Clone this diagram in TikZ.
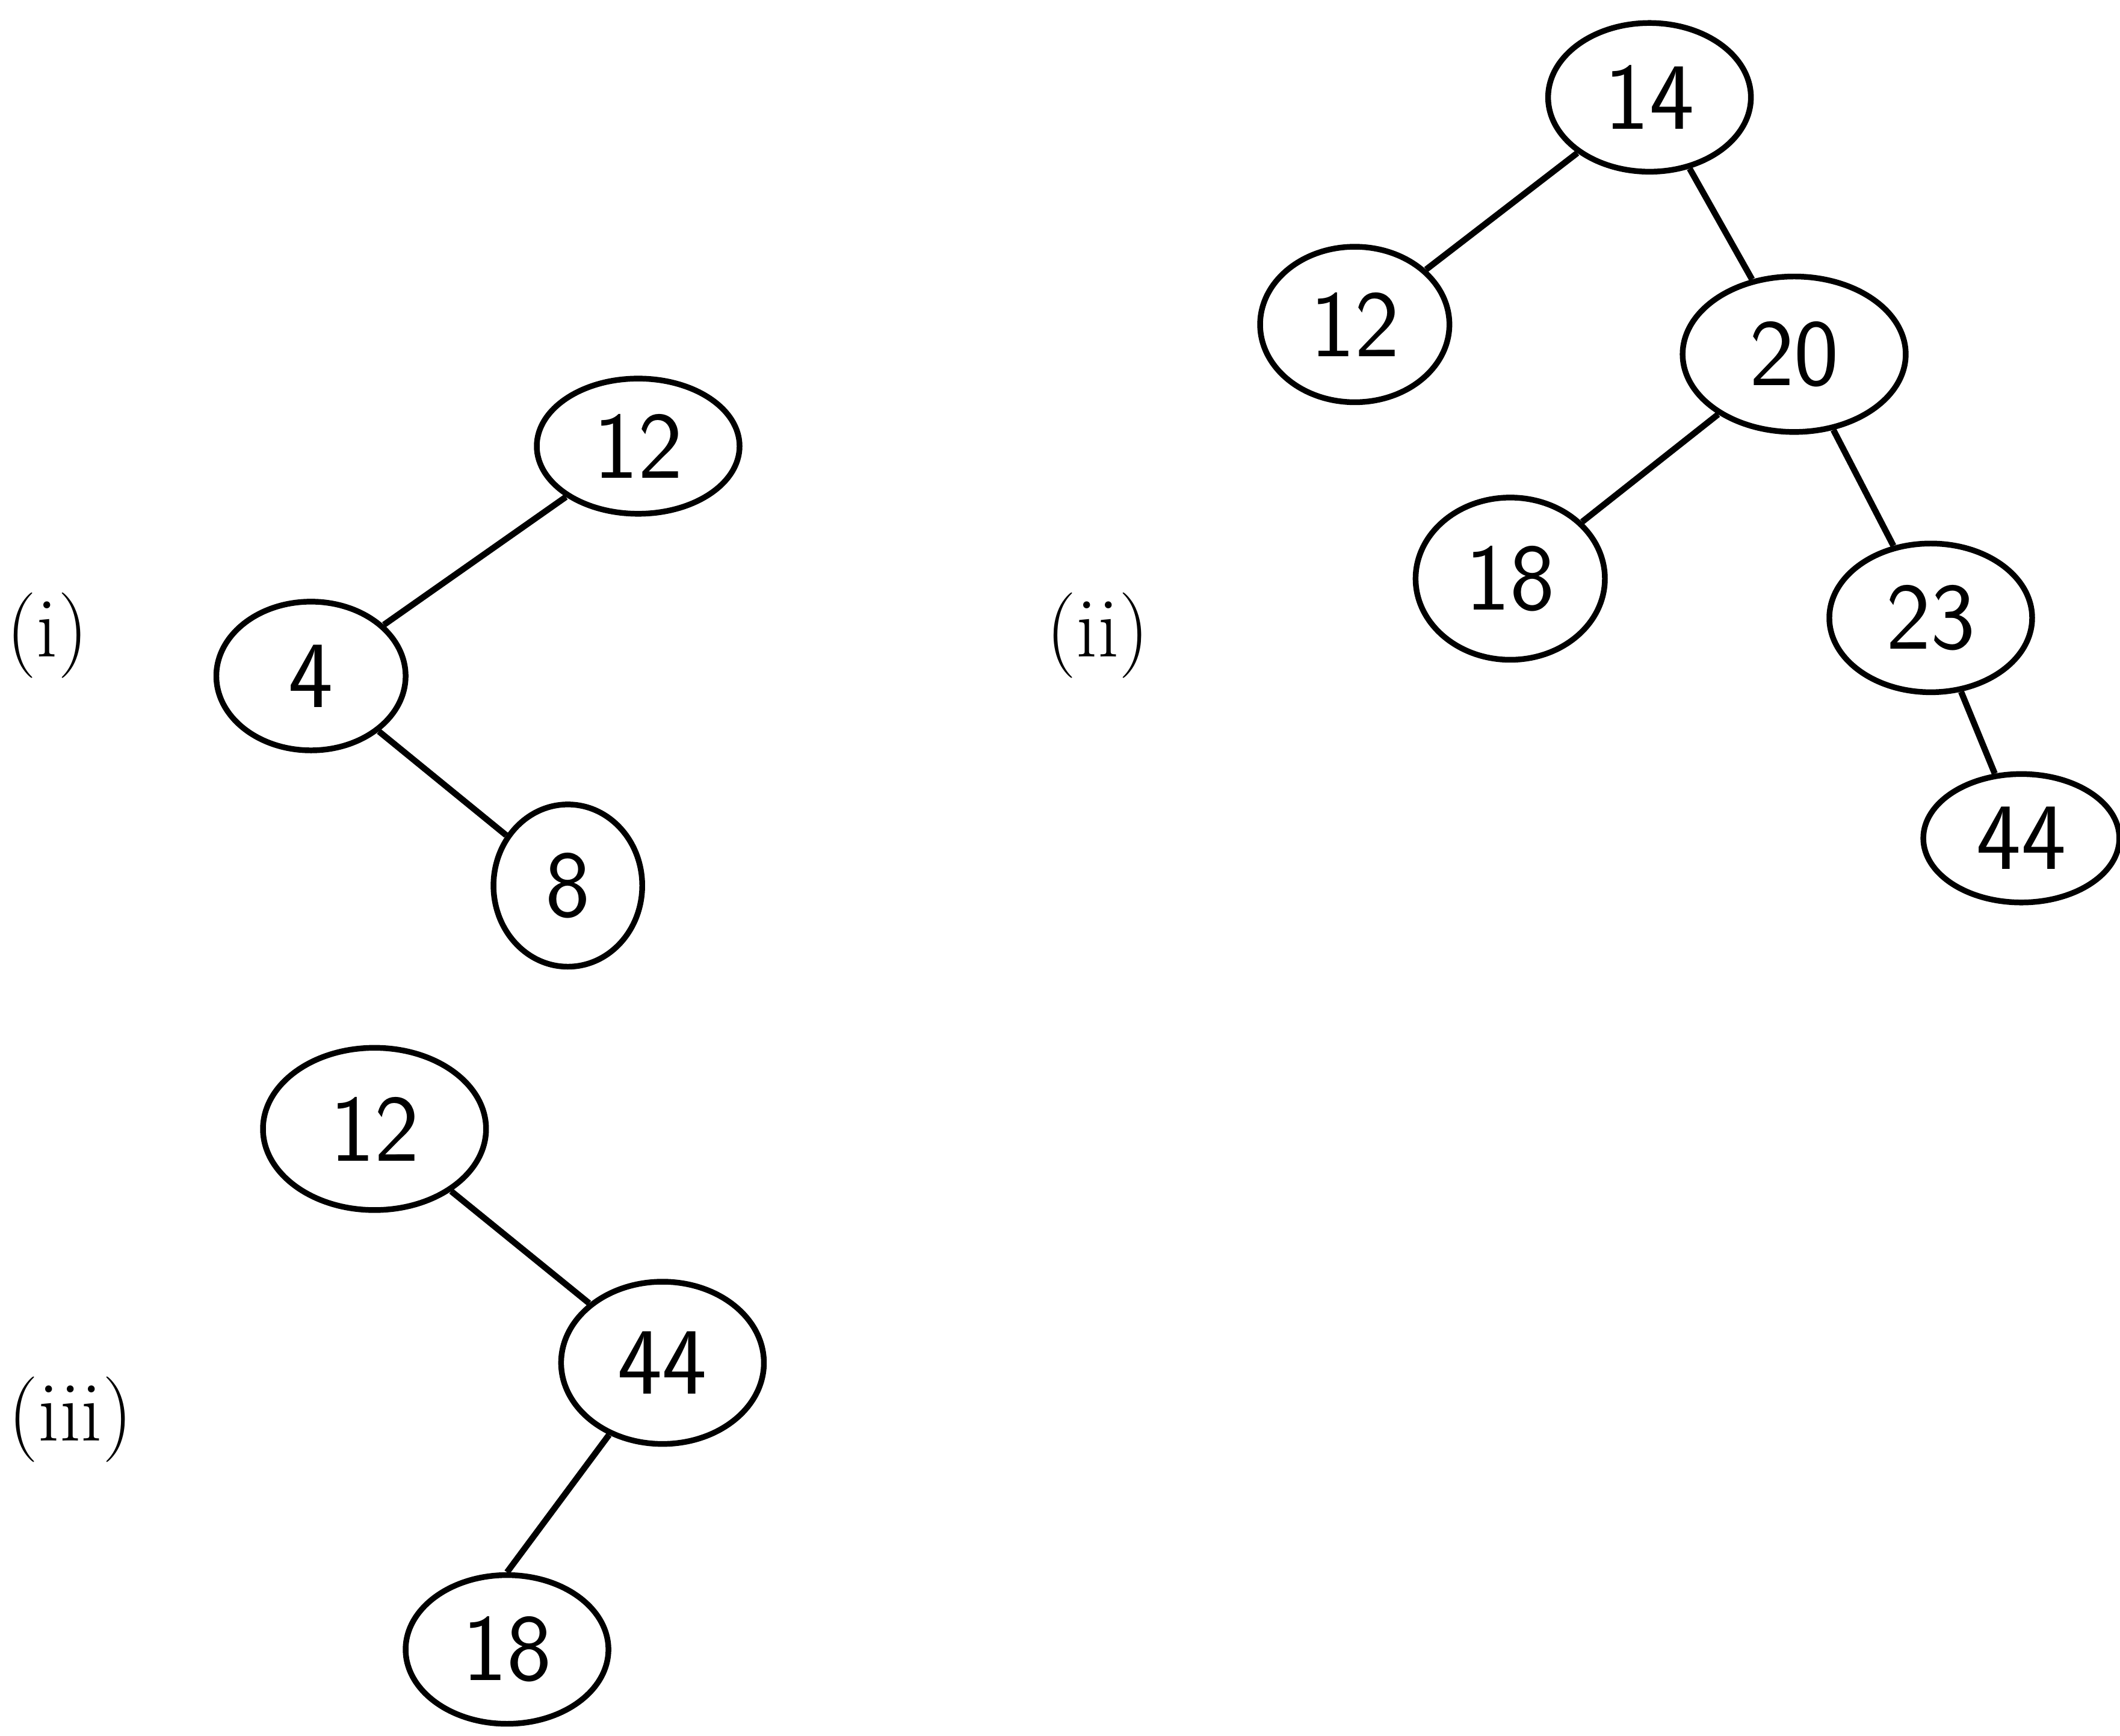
\documentclass[tikz,border=0pt]{standalone}
\usetikzlibrary{shapes.geometric}

\begin{document}
\begin{tikzpicture}[
        key/.style={draw, ellipse, line width=1.2pt, inner sep=0pt,
            minimum width=1.45cm, minimum height=1.1cm, font=\sffamily\fontsize{20}{20}\selectfont},
        edge/.style={line width=1.3pt},
        tag/.style={font=\fontsize{18}{18}\selectfont}
    ]
    \useasboundingbox (0,0) rectangle (15.68,-12.84);

    % tree (i)
    \node[tag] (tagi) at (0.35,-4.70) {(i)};
    \node[key, minimum width=1.5cm, minimum height=1.0cm] (ia) at (4.72,-3.30) {12};
    \node[key, minimum width=1.4cm] (ib) at (2.30,-5.00) {4};
    \node[key, minimum width=1.1cm, minimum height=1.2cm] (ic) at (4.20,-6.55) {8};
    \draw[edge] (ia) -- (ib);
    \draw[edge] (ib) -- (ic);

    % tree (ii)
    \node[tag] (tagii) at (8.12,-4.70) {(ii)};
    \node[key, minimum width=1.5cm] (iia) at (12.20,-0.72) {14};
    \node[key, minimum width=1.4cm, minimum height=1.15cm] (iib) at (10.02,-2.40) {12};
    \node[key, minimum width=1.65cm, minimum height=1.15cm] (iic) at (13.27,-2.62) {20};
    \node[key, minimum width=1.4cm, minimum height=1.2cm] (iid) at (11.17,-4.28) {18};
    \node[key, minimum width=1.5cm] (iie) at (14.28,-4.57) {23};
    \node[key, minimum width=1.45cm, minimum height=0.95cm] (iif) at (14.95,-6.20) {44};
    \draw[edge] (iia) -- (iib);
    \draw[edge] (iia) -- (iic);
    \draw[edge] (iic) -- (iid);
    \draw[edge] (iic) -- (iie);
    \draw[edge] (iie) -- (iif);

    % tree (iii)
    \node[tag] (tagiii) at (0.52,-10.50) {(iii)};
    \node[key, minimum width=1.65cm, minimum height=1.2cm] (iiia) at (2.77,-8.35) {12};
    \node[key, minimum width=1.5cm, minimum height=1.2cm] (iiib) at (4.90,-10.08) {44};
    \node[key, minimum width=1.5cm] (iiic) at (3.75,-12.20) {18};
    \draw[edge] (iiia) -- (iiib);
    \draw[edge] (iiib) -- (iiic.north);
\end{tikzpicture}
\end{document}
